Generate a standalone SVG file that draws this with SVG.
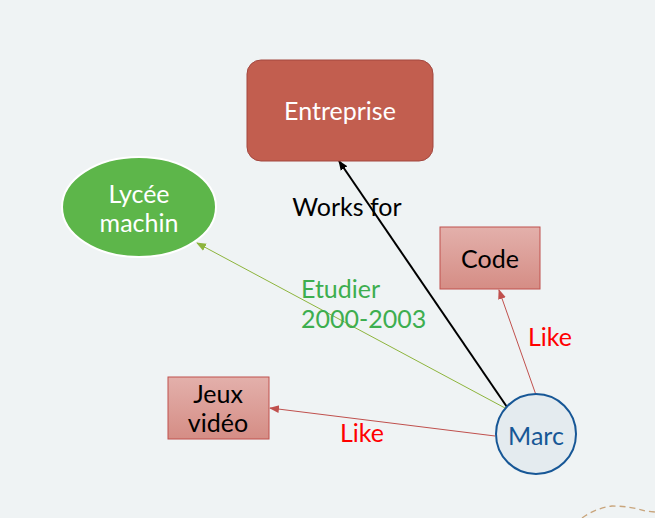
<svg xmlns="http://www.w3.org/2000/svg" width="655" height="518" viewBox="0 0 655 518">
<style>
text{font-family:Lato,"Open Sans","DejaVu Sans",sans-serif;font-size:25px;text-anchor:middle}
.w{fill:#ffffff}
.k{fill:#000000}
.red{fill:#ff0000;text-anchor:start}
.grn{fill:#3dae4f;text-anchor:start}
</style>
<defs>
<linearGradient id="pink" x1="0" y1="0" x2="0" y2="1">
<stop offset="0" stop-color="#e3b0ab"/>
<stop offset="1" stop-color="#d58d85"/>
</linearGradient>
<marker id="ak" markerWidth="10" markerHeight="10" refX="9" refY="5" orient="auto" markerUnits="userSpaceOnUse">
<path d="M0,1 L10,5 L0,9 Z" fill="#000"/>
</marker>
<marker id="ag" markerWidth="10" markerHeight="10" refX="9" refY="5" orient="auto" markerUnits="userSpaceOnUse">
<path d="M0,1 L10,5 L0,9 Z" fill="#8db43c"/>
</marker>
<marker id="ar" markerWidth="10" markerHeight="10" refX="9" refY="5" orient="auto" markerUnits="userSpaceOnUse">
<path d="M0,1 L10,5 L0,9 Z" fill="#c0504d"/>
</marker>
</defs>
<rect width="655" height="518" fill="#eff3f4"/>
<path d="M582,518 Q596,508 612,506 Q630,506 645,511 L655,512" fill="none" stroke="#c9a57c" stroke-width="1.3" stroke-dasharray="6,4"/>
<g id="connectors">
<line x1="507" y1="407" x2="339" y2="161" stroke="#000" stroke-width="2" marker-end="url(#ak)"/>
<line x1="505" y1="408" x2="197" y2="243" stroke="#8db43c" stroke-width="1" marker-end="url(#ag)"/>
<line x1="536" y1="395" x2="499" y2="290" stroke="#c0504d" stroke-width="1" marker-end="url(#ar)"/>
<line x1="495" y1="436" x2="270" y2="408" stroke="#c0504d" stroke-width="1" marker-end="url(#ar)"/>
<text class="k" x="347" y="216">Works for</text>
<text class="grn" x="301" y="298">Etudier</text>
<text class="grn" x="301" y="328">2000-2003</text>
<text class="red" x="528" y="346">Like</text>
<text class="red" x="340" y="442">Like</text>
</g>
<g id="entreprise">
<rect x="247" y="60" width="186" height="101" rx="14" fill="#c25e4f" stroke="#a3473f" stroke-width="1"/>
<text class="w" x="340" y="120">Entreprise</text>
</g>
<g id="lycee">
<ellipse cx="139" cy="207" rx="77" ry="50" fill="#5db64a" stroke="#ffffff" stroke-width="2"/>
<text class="w" x="139" y="203">Lycée</text>
<text class="w" x="139" y="232">machin</text>
</g>
<g id="code">
<rect x="440" y="227" width="100" height="62" fill="url(#pink)" stroke="#c0504d" stroke-width="1"/>
<text class="k" x="490" y="268">Code</text>
</g>
<g id="jeux">
<rect x="168" y="377" width="101" height="62" fill="url(#pink)" stroke="#c0504d" stroke-width="1"/>
<text class="k" x="218" y="403">Jeux</text>
<text class="k" x="218" y="432">vidéo</text>
</g>
<g id="marc">
<circle cx="536" cy="434" r="40" fill="#e4ebef" stroke="#175796" stroke-width="2"/>
<text x="536" y="445" fill="#175796">Marc</text>
</g>
</svg>
